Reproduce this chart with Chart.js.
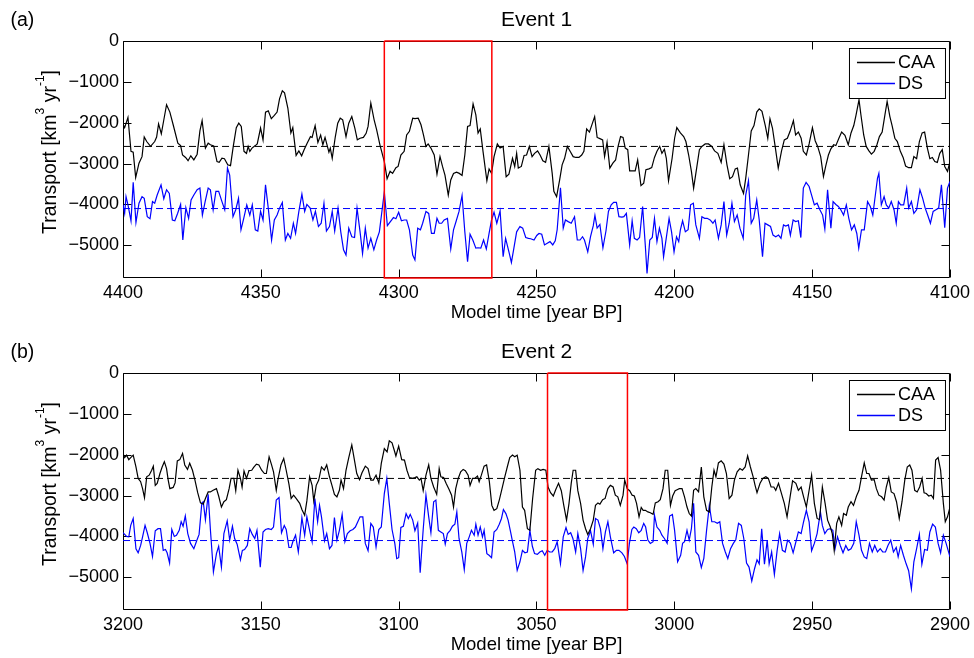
<!DOCTYPE html>
<html><head><meta charset="utf-8">
<script src="https://cdn.jsdelivr.net/npm/chart.js@4.4.1/dist/chart.umd.min.js"></script>
<style>
html,body{margin:0;padding:0;background:#fff;overflow:hidden;width:974px;height:658px;position:relative;}
canvas{position:absolute;left:0;}
#ca{top:0px;} #cb{top:332px;}
</style></head><body>
<canvas id="ca" width="974" height="329"></canvas>
<canvas id="cb" width="974" height="329"></canvas>
<script>
const FONT = "'Liberation Sans', Arial, Helvetica, sans-serif";
const panelLabels = ['(a)', '(b)'];
const panelTitles = ['Event 1', 'Event 2'];
const seriesNames = ['CAA', 'DS'];
const xTitle = 'Model time [year BP]';
const xRangeA = [4100, 4400];
const xRangeB = [2900, 3200];
const xTickStep = 50;
const yRange = [-5800, 0];
const yTickValues = [-5000, -4000, -3000, -2000, -1000, 0];
const caaMeanA = -2580, dsMeanA = -4100;
const caaMeanB = -2580, dsMeanB = -4100;
const eventWindowA = [4305.2, 4266.2];
const eventWindowB = [3046.0, 3017.0];

const caaA = [[4400.0,-2030],[4399.4,-2120],[4398.2,-1870],[4397.1,-2700],[4396.3,-2720],[4395.4,-3340],[4394.2,-2990],[4393.1,-2830],[4392.3,-2350],[4391.4,-2460],[4390.0,-2580],[4388.5,-2460],[4387.8,-2350],[4387.1,-2030],[4386.1,-2270],[4385.3,-1970],[4384.2,-1560],[4383.0,-1740],[4381.8,-2050],[4380.1,-2500],[4379.1,-2560],[4378.4,-2790],[4377.3,-2850],[4376.4,-2930],[4375.4,-2810],[4374.3,-2910],[4373.1,-2770],[4372.1,-2200],[4371.3,-1950],[4370.1,-2620],[4369.1,-2500],[4368.3,-2540],[4367.1,-2570],[4365.9,-2950],[4365.1,-2970],[4364.1,-2870],[4363.2,-2880],[4362.0,-3030],[4361.0,-3050],[4360.0,-2580],[4358.9,-2120],[4358.0,-2010],[4357.1,-2090],[4356.1,-2700],[4355.2,-2750],[4354.6,-2580],[4354.0,-2700],[4353.2,-2620],[4352.0,-2560],[4351.3,-2520],[4350.1,-2130],[4349.2,-2420],[4348.3,-1740],[4347.3,-1710],[4346.2,-1900],[4345.1,-1820],[4344.1,-1740],[4343.2,-1410],[4342.2,-1220],[4341.4,-1270],[4340.2,-1640],[4339.1,-2250],[4338.4,-2120],[4337.2,-2800],[4336.2,-2690],[4335.2,-2810],[4334.3,-2660],[4333.2,-2500],[4332.0,-2340],[4331.4,-2360],[4330.3,-2070],[4329.3,-2480],[4328.3,-2300],[4327.5,-2540],[4326.7,-2360],[4325.3,-2720],[4324.8,-2620],[4324.1,-2870],[4323.0,-2350],[4322.1,-2010],[4321.2,-1890],[4320.3,-1930],[4319.1,-2340],[4318.1,-2010],[4317.0,-1850],[4315.9,-2130],[4315.0,-2420],[4314.0,-2380],[4312.8,-2360],[4311.8,-2260],[4311.1,-2090],[4310.1,-1520],[4308.9,-1930],[4308.0,-2170],[4306.8,-2540],[4305.2,-2950],[4304.2,-3370],[4303.1,-3190],[4302.2,-3240],[4301.0,-3100],[4300.2,-3070],[4299.2,-2790],[4298.0,-2700],[4297.1,-2300],[4296.1,-2210],[4294.9,-1890],[4294.1,-1900],[4292.9,-1890],[4291.9,-2050],[4291.0,-2300],[4290.1,-2580],[4289.3,-2520],[4288.3,-2620],[4287.1,-2790],[4286.1,-3260],[4285.0,-2830],[4284.1,-3070],[4283.2,-3280],[4282.0,-3770],[4281.1,-3400],[4280.1,-3240],[4279.0,-3210],[4278.0,-3240],[4277.0,-3290],[4276.0,-2790],[4275.0,-2090],[4274.1,-2070],[4273.0,-1540],[4272.0,-1810],[4271.2,-2250],[4270.4,-2150],[4269.4,-2700],[4268.0,-3420],[4267.2,-3130],[4266.3,-3240],[4265.4,-2830],[4264.2,-2520],[4263.2,-2620],[4262.1,-2580],[4261.0,-3320],[4260.0,-3260],[4258.7,-2870],[4257.9,-3070],[4257.2,-2750],[4256.6,-3110],[4255.5,-3070],[4254.5,-2800],[4253.6,-2790],[4252.6,-2580],[4251.6,-2830],[4250.7,-2750],[4249.6,-2690],[4248.7,-2790],[4247.7,-2930],[4246.7,-2970],[4245.5,-2580],[4244.3,-3240],[4243.7,-3680],[4242.7,-3810],[4241.6,-3400],[4240.7,-3030],[4239.8,-2870],[4238.8,-2580],[4237.8,-2700],[4236.7,-2830],[4235.7,-2850],[4234.6,-2850],[4233.6,-2790],[4232.8,-2700],[4231.8,-2150],[4230.8,-2230],[4229.7,-2010],[4228.9,-1850],[4228.0,-2360],[4227.0,-2390],[4226.0,-2420],[4225.3,-2830],[4224.4,-2480],[4223.4,-3110],[4222.3,-2990],[4221.3,-2910],[4220.4,-2580],[4219.5,-2340],[4218.6,-2360],[4217.8,-2620],[4216.9,-2660],[4216.2,-3180],[4215.2,-3180],[4214.2,-3180],[4213.3,-2910],[4212.1,-3540],[4211.1,-3480],[4210.3,-3150],[4209.2,-3130],[4208.2,-3100],[4207.2,-2850],[4206.3,-2700],[4205.3,-2580],[4204.5,-2750],[4203.6,-2650],[4202.9,-2870],[4202.1,-3420],[4200.8,-2870],[4199.9,-2380],[4199.1,-2120],[4197.8,-2250],[4196.6,-2340],[4195.8,-2460],[4194.8,-2790],[4193.8,-3190],[4193.0,-3600],[4191.9,-3110],[4190.9,-2660],[4190.0,-2580],[4188.8,-2520],[4187.6,-2520],[4186.4,-2580],[4185.4,-2690],[4184.2,-2750],[4183.0,-2970],[4182.0,-2540],[4180.9,-3030],[4179.9,-3370],[4178.9,-3320],[4177.9,-3130],[4177.1,-3110],[4176.1,-3520],[4174.9,-3730],[4174.1,-3360],[4173.1,-2790],[4172.1,-2200],[4171.1,-2070],[4170.1,-1740],[4169.2,-1660],[4168.2,-1720],[4167.0,-2070],[4166.1,-2380],[4165.3,-1900],[4164.4,-2130],[4163.5,-2540],[4162.3,-3110],[4161.1,-2690],[4160.1,-2420],[4159.0,-2380],[4158.0,-2210],[4156.8,-1950],[4156.0,-2300],[4155.0,-2230],[4154.0,-2380],[4153.2,-2700],[4152.1,-2790],[4151.1,-2520],[4149.9,-2120],[4148.9,-2440],[4148.0,-2580],[4146.9,-2830],[4145.9,-3320],[4145.1,-3070],[4144.1,-2790],[4143.2,-2640],[4142.2,-2540],[4141.4,-2560],[4140.3,-2380],[4139.3,-2230],[4138.1,-2310],[4136.9,-2540],[4135.9,-2250],[4134.9,-2070],[4134.1,-1820],[4133.0,-1440],[4132.3,-1810],[4131.3,-2300],[4130.4,-2580],[4129.4,-2690],[4128.5,-2770],[4127.5,-2700],[4126.5,-2540],[4125.6,-2340],[4124.6,-2230],[4123.6,-1810],[4122.8,-1480],[4121.8,-1850],[4121.0,-2070],[4120.0,-2380],[4119.1,-2460],[4118.0,-2700],[4117.0,-2850],[4116.1,-3060],[4115.0,-3100],[4114.0,-3100],[4113.1,-2830],[4112.1,-2880],[4111.1,-2460],[4110.1,-2250],[4109.2,-2230],[4108.2,-2620],[4107.3,-2880],[4106.4,-2850],[4105.5,-2950],[4104.6,-2970],[4103.7,-2750],[4102.8,-2660],[4101.9,-3070],[4100.9,-3190],[4100.0,-2950]];

const dsA = [[4400.0,-4010],[4399.4,-4220],[4398.9,-3810],[4398.2,-4010],[4397.1,-4400],[4396.3,-3460],[4395.3,-4440],[4394.2,-3970],[4393.1,-3810],[4392.3,-3850],[4391.2,-4300],[4390.2,-4350],[4389.3,-3930],[4388.5,-3970],[4387.6,-3770],[4386.2,-3520],[4385.2,-3860],[4384.2,-3640],[4383.2,-3730],[4382.1,-4380],[4381.2,-4400],[4380.2,-4220],[4379.1,-4000],[4378.3,-4870],[4377.2,-4080],[4376.2,-4340],[4375.3,-3890],[4374.3,-3770],[4373.1,-3640],[4372.1,-3600],[4371.2,-4260],[4370.2,-3930],[4369.1,-3600],[4368.3,-3640],[4367.3,-4130],[4366.3,-3680],[4365.3,-3680],[4364.1,-3930],[4363.1,-4130],[4362.1,-3110],[4361.3,-3280],[4360.1,-4300],[4359.1,-4130],[4358.1,-3850],[4357.2,-4620],[4356.2,-4340],[4355.1,-4010],[4354.0,-4260],[4353.1,-4010],[4352.0,-4620],[4351.1,-4650],[4350.1,-4170],[4349.2,-4380],[4348.3,-3520],[4347.3,-4090],[4346.1,-4870],[4345.1,-4380],[4344.1,-4260],[4343.2,-4090],[4342.2,-3950],[4341.1,-4870],[4340.2,-4710],[4339.2,-4830],[4338.2,-4460],[4337.4,-4710],[4336.2,-4170],[4335.1,-3750],[4334.1,-4170],[4333.3,-4000],[4332.1,-4090],[4331.1,-4380],[4330.2,-4170],[4329.1,-4540],[4328.1,-4460],[4327.1,-3970],[4326.2,-4650],[4325.1,-4540],[4324.1,-4170],[4323.2,-4650],[4322.0,-4090],[4321.0,-4670],[4320.0,-5110],[4319.1,-5240],[4318.1,-4580],[4317.0,-4790],[4316.0,-4810],[4315.1,-4090],[4314.0,-4670],[4313.1,-5200],[4312.1,-4580],[4311.1,-5070],[4310.1,-4830],[4309.0,-5110],[4308.0,-4870],[4307.0,-4670],[4306.0,-4130],[4305.2,-3700],[4304.1,-4520],[4303.0,-4420],[4301.9,-4320],[4301.0,-4350],[4300.0,-4190],[4299.0,-4400],[4298.0,-4380],[4297.1,-4380],[4296.1,-4620],[4294.9,-5240],[4294.1,-5360],[4293.1,-4580],[4292.1,-4620],[4291.3,-4460],[4290.1,-4170],[4289.1,-4220],[4288.1,-4710],[4287.1,-4710],[4286.1,-4340],[4285.3,-4460],[4284.4,-4460],[4283.5,-4380],[4282.3,-4340],[4281.1,-5090],[4280.1,-4620],[4279.1,-4400],[4278.1,-4170],[4277.0,-3780],[4276.0,-4670],[4275.0,-5400],[4274.1,-4730],[4273.1,-4870],[4272.0,-5070],[4271.2,-5060],[4270.2,-5070],[4269.2,-4870],[4268.2,-5090],[4267.2,-4710],[4266.3,-4380],[4265.4,-4190],[4264.4,-4460],[4263.2,-4160],[4262.1,-5280],[4261.2,-4830],[4260.0,-5160],[4259.1,-5420],[4258.2,-5070],[4257.2,-4670],[4256.0,-4540],[4255.0,-4580],[4253.9,-4810],[4252.9,-4830],[4252.1,-4840],[4250.9,-4870],[4249.9,-4760],[4249.1,-4710],[4248.1,-4730],[4247.1,-4990],[4246.1,-4950],[4245.1,-4910],[4244.1,-4990],[4243.2,-4890],[4242.5,-4620],[4241.3,-3590],[4240.3,-4580],[4239.5,-4380],[4238.5,-4420],[4237.4,-4460],[4236.2,-4300],[4235.2,-4870],[4234.2,-4870],[4233.3,-4790],[4232.6,-4870],[4231.4,-5160],[4230.4,-4790],[4229.4,-4520],[4228.8,-4270],[4228.0,-4580],[4227.0,-4490],[4225.9,-5060],[4224.8,-4650],[4223.9,-4170],[4222.9,-4010],[4222.0,-3950],[4221.0,-3950],[4220.1,-4300],[4219.0,-4310],[4218.3,-4300],[4217.4,-4220],[4216.2,-4990],[4215.3,-4400],[4214.5,-4830],[4213.5,-4870],[4212.6,-4810],[4211.5,-4050],[4210.5,-5030],[4209.9,-5690],[4208.9,-4870],[4208.0,-4810],[4207.2,-4340],[4206.3,-4910],[4205.4,-4580],[4204.5,-4830],[4203.9,-5280],[4202.9,-4810],[4201.9,-4340],[4201.0,-4670],[4200.1,-5160],[4199.2,-4790],[4198.4,-4910],[4197.8,-4620],[4197.0,-4400],[4196.0,-4670],[4195.0,-4620],[4194.1,-4010],[4193.1,-3970],[4192.2,-4500],[4190.9,-4830],[4190.0,-4300],[4189.0,-4340],[4188.1,-4340],[4187.0,-4380],[4186.0,-4460],[4185.2,-4380],[4184.0,-4830],[4183.0,-4500],[4182.0,-3930],[4181.0,-4750],[4180.1,-4460],[4179.1,-3970],[4178.2,-4420],[4177.2,-4260],[4176.2,-4580],[4175.0,-4830],[4174.1,-3770],[4173.1,-3420],[4172.1,-4460],[4171.2,-4340],[4170.1,-3890],[4169.2,-4380],[4168.0,-5280],[4167.1,-4460],[4166.1,-4500],[4165.1,-4540],[4164.2,-4750],[4163.2,-4790],[4162.2,-4750],[4161.3,-4830],[4160.4,-4500],[4159.6,-4530],[4158.6,-4500],[4157.9,-4750],[4156.9,-4380],[4156.0,-4420],[4155.0,-4400],[4154.1,-4810],[4153.2,-3600],[4152.2,-3460],[4151.1,-3560],[4150.2,-3770],[4149.2,-4010],[4148.2,-3970],[4147.2,-4130],[4146.2,-4260],[4145.4,-4600],[4144.4,-3640],[4143.2,-4580],[4142.4,-3930],[4141.4,-4000],[4140.5,-4050],[4139.6,-4130],[4138.6,-4260],[4137.6,-4010],[4136.7,-4340],[4135.7,-4620],[4134.7,-4500],[4133.8,-4710],[4133.1,-5070],[4132.1,-4620],[4131.1,-4620],[4129.9,-3930],[4128.9,-4050],[4128.0,-4260],[4127.3,-3890],[4126.3,-3360],[4125.8,-3240],[4124.9,-4010],[4123.9,-3810],[4123.1,-4010],[4122.2,-4090],[4121.3,-3930],[4120.3,-4130],[4119.5,-4460],[4118.7,-3930],[4117.9,-4010],[4116.8,-4010],[4115.7,-3600],[4115.0,-4090],[4114.0,-3930],[4113.1,-4220],[4112.1,-4130],[4110.9,-3640],[4109.9,-3850],[4109.0,-4090],[4108.1,-4260],[4107.1,-4460],[4106.1,-4170],[4105.1,-4130],[4104.1,-4090],[4103.1,-3520],[4101.9,-4570],[4100.9,-3600],[4100.0,-3440]];

const caaB = [[3200.0,-1970],[3199.4,-2070],[3198.7,-2010],[3197.9,-2120],[3197.2,-2070],[3196.3,-2010],[3195.3,-2300],[3194.5,-2580],[3193.6,-2660],[3192.9,-2830],[3192.2,-3050],[3191.4,-2540],[3190.5,-2500],[3189.6,-2380],[3189.0,-2280],[3188.3,-2750],[3187.6,-2700],[3186.6,-2460],[3185.8,-2300],[3185.0,-2170],[3184.2,-2340],[3183.6,-2620],[3183.0,-2830],[3181.8,-2800],[3181.1,-2690],[3180.3,-2150],[3179.4,-2120],[3178.4,-1970],[3177.6,-2250],[3176.6,-2360],[3175.8,-2210],[3174.8,-2380],[3173.9,-2620],[3172.9,-2930],[3171.9,-3180],[3170.9,-3210],[3170.1,-3070],[3169.1,-2910],[3168.3,-2910],[3167.3,-2870],[3166.1,-2830],[3165.3,-3010],[3164.3,-3280],[3163.4,-3150],[3162.5,-3100],[3161.5,-2830],[3160.8,-2580],[3159.8,-2580],[3159.1,-2880],[3158.3,-2380],[3157.4,-2580],[3156.8,-2790],[3156.1,-2400],[3155.2,-2580],[3154.3,-2390],[3153.3,-2380],[3152.6,-2310],[3151.6,-2230],[3150.7,-2250],[3149.7,-2380],[3148.7,-2460],[3148.0,-2460],[3147.0,-2050],[3146.1,-2250],[3145.4,-2420],[3144.4,-2870],[3143.8,-2610],[3142.7,-2250],[3141.7,-2090],[3140.8,-2380],[3139.8,-2720],[3139.0,-3070],[3138.1,-2990],[3137.2,-3070],[3135.9,-3190],[3135.1,-3340],[3134.1,-3480],[3133.3,-3130],[3132.3,-2540],[3131.4,-2750],[3130.8,-3130],[3129.9,-2750],[3129.0,-2620],[3128.0,-2300],[3127.0,-2380],[3126.1,-2250],[3125.1,-2540],[3124.2,-2750],[3123.3,-2970],[3122.4,-3030],[3121.5,-2870],[3120.9,-2620],[3120.0,-2830],[3119.1,-2380],[3118.1,-2070],[3117.0,-1760],[3116.2,-2070],[3115.2,-2460],[3114.2,-2610],[3113.3,-2440],[3112.1,-2280],[3111.1,-2340],[3110.1,-2620],[3109.2,-2620],[3108.2,-2500],[3107.2,-2690],[3106.3,-2210],[3105.2,-1850],[3104.2,-1930],[3103.4,-1660],[3102.4,-1710],[3101.6,-1890],[3101.0,-2030],[3100.0,-1790],[3098.9,-2120],[3097.9,-2130],[3097.0,-2380],[3096.1,-2560],[3094.9,-2580],[3094.1,-2560],[3093.4,-2540],[3092.5,-2620],[3091.9,-2580],[3091.1,-2880],[3090.1,-2500],[3089.1,-2250],[3088.3,-2580],[3087.3,-2790],[3086.2,-2970],[3085.3,-2340],[3084.7,-2540],[3083.7,-2560],[3082.8,-2700],[3081.7,-2850],[3080.8,-2990],[3080.1,-3280],[3079.3,-2830],[3078.4,-2580],[3077.5,-2420],[3076.6,-2360],[3075.8,-2390],[3074.8,-2500],[3074.1,-2750],[3073.2,-2580],[3072.4,-2580],[3071.4,-2520],[3070.8,-2660],[3070.0,-2500],[3069.0,-2280],[3068.1,-2250],[3067.1,-2660],[3066.2,-3240],[3065.4,-3360],[3064.4,-3320],[3063.5,-3110],[3062.4,-2800],[3061.5,-2540],[3060.6,-2300],[3059.7,-2070],[3058.7,-2010],[3057.9,-2050],[3057.0,-2010],[3056.0,-2380],[3055.1,-3280],[3054.3,-3360],[3053.3,-3810],[3052.4,-3850],[3051.4,-3070],[3050.3,-2380],[3049.5,-2340],[3048.5,-2380],[3047.6,-2360],[3046.6,-2380],[3045.8,-2790],[3044.9,-2930],[3043.9,-3010],[3043.0,-2850],[3042.0,-2700],[3041.0,-2880],[3040.1,-3240],[3039.1,-3600],[3038.2,-3190],[3037.4,-2700],[3036.7,-2380],[3035.8,-2380],[3035.0,-2880],[3034.0,-3190],[3033.1,-3600],[3032.2,-3810],[3031.4,-3950],[3030.4,-3810],[3029.4,-3600],[3028.6,-3240],[3027.7,-3180],[3027.0,-3210],[3026.0,-3100],[3025.1,-3070],[3024.1,-2830],[3023.2,-2750],[3022.2,-2790],[3021.4,-2990],[3020.5,-3030],[3019.6,-3240],[3018.6,-2990],[3018.0,-2620],[3017.1,-2830],[3016.2,-2880],[3015.3,-2990],[3014.5,-3010],[3013.7,-3190],[3012.8,-3520],[3012.0,-3290],[3011.3,-3360],[3010.5,-3360],[3009.6,-3400],[3008.7,-3420],[3007.7,-3460],[3006.9,-3180],[3005.9,-3150],[3005.1,-3100],[3004.1,-2830],[3003.3,-2380],[3002.4,-2380],[3001.4,-3240],[3000.6,-3010],[2999.7,-2880],[2998.8,-2850],[2998.2,-2830],[2997.2,-2830],[2996.3,-3030],[2995.4,-3280],[2994.6,-3440],[2993.8,-3500],[2993.0,-2870],[2992.2,-2830],[2991.2,-2910],[2990.2,-2300],[2989.3,-3030],[2988.3,-3360],[2987.3,-3400],[2986.4,-2790],[2985.6,-2380],[2984.9,-2540],[2984.0,-2200],[2983.0,-2150],[2982.0,-2230],[2981.1,-2460],[2980.1,-3070],[2979.1,-2990],[2978.2,-2620],[2977.2,-2420],[2976.2,-2340],[2975.3,-2380],[2974.3,-2300],[2973.4,-2030],[2972.4,-2300],[2971.4,-2540],[2970.7,-2750],[2970.0,-2930],[2968.9,-2700],[2967.9,-2580],[2966.8,-2540],[2965.9,-2580],[2964.9,-2790],[2963.9,-2790],[2963.2,-2870],[2962.2,-2700],[2961.3,-2910],[2960.1,-3190],[2959.1,-3520],[2958.0,-3030],[2957.1,-2640],[2955.9,-2700],[2955.0,-2870],[2954.0,-2790],[2953.1,-3030],[2952.1,-3280],[2951.1,-2870],[2950.2,-2500],[2949.2,-3190],[2948.2,-3560],[2947.3,-3590],[2946.3,-2790],[2945.3,-3190],[2944.4,-3600],[2943.4,-3770],[2942.7,-3930],[2942.0,-4340],[2941.1,-3680],[2940.3,-3520],[2939.3,-3730],[2938.6,-3440],[2937.6,-3480],[2936.9,-3280],[2935.9,-3150],[2935.0,-3240],[2933.9,-3010],[2933.0,-2870],[2932.1,-2540],[2931.1,-2200],[2930.2,-2460],[2929.4,-2460],[2928.5,-2620],[2927.5,-2610],[2926.7,-2830],[2925.8,-2990],[2924.8,-3030],[2923.9,-3110],[2923.1,-2790],[2922.2,-2560],[2921.3,-2910],[2920.3,-2950],[2919.4,-3150],[2918.4,-3560],[2917.4,-3150],[2916.4,-2620],[2915.5,-2300],[2914.6,-2250],[2913.8,-2380],[2912.8,-2870],[2911.9,-2910],[2911.0,-2790],[2910.1,-2580],[2909.4,-2930],[2908.6,-2950],[2907.7,-3010],[2906.8,-2990],[2906.0,-3070],[2905.2,-2130],[2904.3,-2070],[2903.4,-2380],[2902.4,-3190],[2901.7,-3640],[2900.9,-3520],[2900.0,-3280]];

const dsB = [[3200.0,-3910],[3199.4,-3950],[3198.7,-4000],[3197.9,-4010],[3197.2,-3730],[3196.3,-3560],[3195.3,-4300],[3194.5,-4400],[3193.6,-4220],[3192.9,-4010],[3192.0,-3730],[3191.2,-3910],[3190.2,-4170],[3189.3,-4490],[3188.3,-3860],[3187.3,-3810],[3186.4,-3810],[3185.4,-4340],[3184.6,-4320],[3184.0,-4400],[3183.1,-4650],[3182.3,-3830],[3181.4,-4000],[3180.6,-3970],[3179.6,-3850],[3178.9,-3640],[3178.2,-3750],[3177.4,-3500],[3176.5,-3930],[3175.5,-4170],[3174.3,-4300],[3173.3,-4110],[3172.4,-3950],[3171.4,-3180],[3170.9,-3150],[3170.1,-3590],[3169.1,-2970],[3168.3,-3830],[3167.2,-4870],[3166.1,-4420],[3165.3,-4240],[3164.3,-4750],[3163.4,-3930],[3162.2,-3620],[3161.3,-4090],[3160.3,-3750],[3159.5,-4050],[3158.6,-4190],[3157.4,-4570],[3156.7,-4340],[3155.9,-4320],[3154.9,-4220],[3154.0,-3810],[3153.1,-3950],[3152.2,-4050],[3151.4,-3850],[3150.2,-4750],[3149.2,-3890],[3148.3,-3830],[3147.3,-3810],[3146.2,-3830],[3145.4,-3770],[3144.4,-3110],[3143.4,-3050],[3142.5,-3910],[3141.5,-3730],[3140.8,-3830],[3139.8,-4270],[3139.0,-4270],[3138.4,-4130],[3137.4,-3970],[3136.4,-4380],[3135.9,-4080],[3135.1,-3540],[3134.1,-3970],[3133.3,-3520],[3132.3,-3850],[3131.4,-4130],[3130.4,-3070],[3129.4,-3640],[3128.7,-3240],[3128.0,-3520],[3126.9,-4110],[3126.1,-3930],[3125.1,-4300],[3124.2,-4220],[3123.3,-3540],[3122.4,-4090],[3121.5,-3850],[3120.5,-3460],[3119.5,-4130],[3118.6,-3930],[3117.6,-3860],[3116.6,-3830],[3115.7,-3770],[3114.7,-3620],[3114.0,-3520],[3113.0,-3520],[3112.1,-4170],[3111.1,-4350],[3110.1,-3680],[3109.2,-3770],[3108.2,-4260],[3107.2,-3830],[3106.3,-3770],[3105.2,-2950],[3104.3,-2580],[3103.4,-3190],[3102.4,-3830],[3101.4,-4170],[3100.7,-4540],[3100.0,-4520],[3099.2,-3780],[3098.3,-3750],[3097.3,-3440],[3096.5,-3560],[3095.8,-3460],[3094.9,-3600],[3094.1,-3860],[3093.1,-3670],[3092.2,-4890],[3091.1,-3830],[3090.1,-2990],[3089.1,-3520],[3088.3,-3910],[3087.3,-3150],[3086.5,-3110],[3085.6,-3850],[3084.7,-3890],[3083.8,-3930],[3083.1,-4190],[3082.3,-3930],[3081.3,-3850],[3080.5,-3750],[3079.6,-3700],[3078.9,-3400],[3078.1,-4050],[3077.1,-4380],[3076.2,-4810],[3075.3,-4170],[3074.4,-4010],[3073.6,-3850],[3072.6,-3970],[3072.0,-3700],[3071.2,-3970],[3070.4,-3770],[3069.6,-4010],[3069.0,-3850],[3068.0,-4420],[3067.2,-4460],[3066.3,-4520],[3065.4,-3890],[3064.4,-3830],[3063.5,-3700],[3062.7,-3560],[3062.0,-3340],[3061.1,-3440],[3060.3,-3600],[3059.4,-3890],[3058.8,-4090],[3057.9,-4380],[3057.0,-4830],[3056.0,-4620],[3055.1,-4340],[3054.2,-4400],[3053.3,-4380],[3052.4,-3850],[3051.5,-4240],[3050.7,-4420],[3049.7,-4440],[3048.8,-4380],[3047.9,-4350],[3047.0,-4460],[3046.1,-4340],[3045.2,-4380],[3044.3,-4380],[3043.4,-4300],[3042.5,-4130],[3041.3,-4670],[3040.3,-4010],[3039.3,-3780],[3038.5,-3950],[3037.6,-3910],[3036.8,-4050],[3035.8,-4380],[3035.0,-3930],[3034.0,-4300],[3033.1,-4830],[3032.2,-4500],[3031.4,-4050],[3030.4,-3860],[3029.4,-4190],[3028.6,-3560],[3027.7,-3600],[3026.8,-3810],[3025.9,-4300],[3025.0,-3890],[3024.1,-3640],[3023.2,-4010],[3022.0,-4400],[3021.0,-4340],[3020.1,-4340],[3019.0,-4400],[3018.1,-4490],[3017.1,-4670],[3016.3,-4170],[3015.4,-3830],[3014.7,-3770],[3013.8,-3810],[3012.9,-3910],[3012.0,-3850],[3011.1,-3680],[3010.4,-3770],[3009.6,-4090],[3008.7,-4170],[3007.7,-4130],[3007.2,-3480],[3006.3,-3770],[3005.3,-3850],[3004.5,-3970],[3003.6,-4050],[3002.6,-4170],[3001.7,-3500],[3000.7,-3460],[2999.9,-3850],[2998.8,-4620],[2997.7,-4460],[2997.0,-4170],[2996.3,-4130],[2995.4,-3850],[2994.6,-4090],[2993.8,-3810],[2993.0,-3190],[2992.2,-4380],[2991.2,-4460],[2990.2,-4760],[2989.3,-4540],[2988.3,-3850],[2987.3,-3240],[2986.4,-3640],[2985.4,-3640],[2984.4,-3680],[2983.5,-3640],[2982.5,-4170],[2981.5,-4380],[2980.6,-4540],[2979.6,-4300],[2978.6,-4170],[2977.7,-4080],[2976.7,-3680],[2975.7,-3730],[2974.8,-4050],[2973.8,-4650],[2972.9,-4750],[2971.9,-5090],[2970.9,-4790],[2970.0,-4570],[2969.2,-4670],[2968.3,-3810],[2967.3,-4680],[2966.3,-4090],[2965.6,-4670],[2964.7,-4380],[2963.7,-4930],[2962.7,-4340],[2961.8,-3930],[2960.8,-4340],[2959.8,-4380],[2958.9,-4090],[2957.9,-4160],[2956.9,-4400],[2956.0,-4160],[2955.0,-3890],[2954.0,-3930],[2953.1,-3640],[2952.1,-3360],[2951.1,-3640],[2950.2,-4350],[2949.2,-4170],[2948.2,-3930],[2947.0,-3400],[2946.3,-3730],[2945.4,-3930],[2944.4,-3830],[2943.4,-3810],[2942.5,-3850],[2941.7,-4300],[2940.8,-4010],[2939.8,-4220],[2938.8,-4400],[2937.8,-4220],[2936.9,-4340],[2935.9,-4300],[2934.9,-4170],[2934.0,-3640],[2933.0,-3970],[2932.1,-4340],[2931.1,-4500],[2930.2,-4540],[2929.2,-4170],[2928.2,-4380],[2927.3,-4220],[2926.3,-4380],[2925.3,-4300],[2924.4,-4380],[2923.4,-4380],[2922.5,-4220],[2921.5,-4090],[2920.5,-4380],[2919.5,-4270],[2918.8,-4500],[2917.9,-4220],[2916.9,-4460],[2915.9,-4670],[2915.0,-4840],[2914.0,-5280],[2913.1,-4620],[2912.1,-4300],[2911.1,-3950],[2910.2,-4680],[2909.2,-4320],[2908.2,-4340],[2907.3,-3890],[2906.3,-3700],[2905.3,-3770],[2904.3,-4170],[2903.4,-4400],[2902.4,-3970],[2901.4,-4170],[2900.0,-4500]];

const COLORS = { caa: '#000000', ds: '#0000ff', window: '#ff0000', frame: '#000000' };

function pts(pairs) { return pairs.map(p => ({ x: p[0], y: p[1] })); }

function drawYTitle(ctx, cx, cy) {
  const parts = [['Transport [km', 19.5, 0], ['3', 12, -12], [' yr', 19.5, 0], ['-1', 12, -12], [']', 19.5, 0]];
  let total = 0;
  const widths = parts.map(p => { ctx.font = p[1] + 'px ' + FONT; const w = ctx.measureText(p[0]).width; total += w; return w; });
  ctx.save();
  ctx.translate(cx, cy);
  ctx.rotate(-Math.PI / 2);
  ctx.fillStyle = '#000';
  ctx.textAlign = 'left';
  ctx.textBaseline = 'alphabetic';
  let x = -total / 2;
  parts.forEach((p, i) => { ctx.font = p[1] + 'px ' + FONT; ctx.fillText(p[0], x, p[2]); x += widths[i]; });
  ctx.restore();
}

const decorPlugin = {
  id: 'decor',
  beforeDatasetsDraw(chart) {
    const { ctx, chartArea: a, scales: { x, y } } = chart;
    const L = a.left + 0.5, R = a.right - 0.5, T = a.top + 0.5, B = a.bottom - 0.5;
    ctx.save();
    ctx.strokeStyle = COLORS.frame;
    ctx.lineWidth = 1;
    ctx.beginPath();
    ctx.rect(L, T, R - L, B - T);
    const tl = 8;
    x.ticks.forEach(t => {
      const px = Math.round(x.getPixelForValue(t.value)) + 0.5;
      ctx.moveTo(px, B); ctx.lineTo(px, B - tl);
      ctx.moveTo(px, T); ctx.lineTo(px, T + tl);
    });
    y.ticks.forEach(t => {
      const py = Math.round(y.getPixelForValue(t.value)) + 0.5;
      ctx.moveTo(L, py); ctx.lineTo(L + tl, py);
      ctx.moveTo(R, py); ctx.lineTo(R - tl, py);
    });
    ctx.stroke();
    ctx.restore();
  },
  afterDatasetsDraw(chart) {
    const { ctx, chartArea: a } = chart;
    const bw = 96, bh = 50;
    const bx = a.right - 5 - bw, by = a.top + 7;
    ctx.save();
    ctx.fillStyle = '#fff';
    ctx.fillRect(bx, by, bw, bh);
    ctx.strokeStyle = '#000';
    ctx.lineWidth = 1;
    ctx.strokeRect(bx + 0.5, by + 0.5, bw, bh);
    const items = [
      { name: seriesNames[0], color: COLORS.caa, y: by + 14.5 },
      { name: seriesNames[1], color: COLORS.ds, y: by + 35.5 }
    ];
    ctx.font = '18px ' + FONT;
    ctx.textBaseline = 'middle';
    ctx.textAlign = 'left';
    for (const it of items) {
      ctx.beginPath();
      ctx.strokeStyle = it.color;
      ctx.lineWidth = 1.3;
      ctx.moveTo(bx + 8, it.y); ctx.lineTo(bx + 46, it.y);
      ctx.stroke();
      ctx.fillStyle = '#000';
      ctx.fillText(it.name, bx + 49, it.y + 0.5);
    }
    ctx.restore();
  },
  afterDraw(chart, args, opts) {
    const { ctx, chartArea: a } = chart;
    ctx.save();
    ctx.fillStyle = '#000';
    ctx.textBaseline = 'alphabetic';
    ctx.font = '21px ' + FONT;
    ctx.textAlign = 'center';
    ctx.fillText(opts.title, (a.left + a.right) / 2, 26);
    ctx.font = '19.5px ' + FONT;
    ctx.textAlign = 'left';
    ctx.fillText(opts.label, 10.5, 26);
    ctx.restore();
    drawYTitle(ctx, 56, 152);
  }
};

function makeChart(id, xr, caa, ds, caaMean, dsMean, win, title, label) {
  const datasets = [
    { label: 'window', data: pts([[win[0], yRange[1]], [win[0], yRange[0]], [win[1], yRange[0]], [win[1], yRange[1]], [win[0], yRange[1]]]),
      borderColor: COLORS.window, borderWidth: 1.5, pointRadius: 0, fill: false, clip: false, order: 0, borderJoinStyle: 'miter' },
    { label: seriesNames[0], data: pts(caa), borderColor: COLORS.caa, borderWidth: 1.2, pointRadius: 0, fill: false, tension: 0, order: 1 },
    { label: seriesNames[1], data: pts(ds), borderColor: COLORS.ds, borderWidth: 1.2, pointRadius: 0, fill: false, tension: 0, order: 2 },
    { label: 'CAA mean', data: pts([[xr[1], caaMean], [xr[0], caaMean]]), borderColor: COLORS.caa, borderWidth: 1, borderDash: [7, 4], pointRadius: 0, fill: false, order: 3 },
    { label: 'DS mean', data: pts([[xr[1], dsMean], [xr[0], dsMean]]), borderColor: COLORS.ds, borderWidth: 1, borderDash: [7, 4], pointRadius: 0, fill: false, order: 4 }
  ];
  return new Chart(document.getElementById(id), {
    type: 'line',
    data: { datasets },
    plugins: [decorPlugin],
    options: {
      responsive: false,
      animation: false,
      devicePixelRatio: 1,
      events: [],
      layout: { padding: { left: 0, right: 22, top: 41, bottom: 0 } },
      plugins: {
        legend: { display: false },
        tooltip: { enabled: false },
        title: { display: false },
        decor: { title, label }
      },
      scales: {
        x: {
          type: 'linear', min: xr[0], max: xr[1], reverse: true, position: 'bottom',
          grid: { display: false, drawTicks: false },
          border: { display: false },
          ticks: { stepSize: xTickStep, autoSkip: false, maxRotation: 0, padding: 4, color: '#000',
                   font: { family: FONT, size: 18 }, callback: v => String(v) },
          title: { display: true, text: xTitle, color: '#000', font: { family: FONT, size: 18.5 }, padding: { top: 0, bottom: 4.5 } },
          afterFit(s) { s.height = 51; }
        },
        y: {
          type: 'linear', min: yRange[0], max: yRange[1],
          grid: { display: false, drawTicks: false },
          border: { display: false },
          afterBuildTicks(s) { s.ticks = yTickValues.map(v => ({ value: v })); },
          ticks: { autoSkip: false, padding: 4, color: '#000',
                   font: { family: FONT, size: 18 }, callback: v => v === 0 ? '0' : '\u2212' + Math.abs(v) },
          afterFit(s) { s.width = 123; }
        }
      }
    }
  });
}

makeChart('ca', xRangeA, caaA, dsA, caaMeanA, dsMeanA, eventWindowA, panelTitles[0], panelLabels[0]);
makeChart('cb', xRangeB, caaB, dsB, caaMeanB, dsMeanB, eventWindowB, panelTitles[1], panelLabels[1]);
</script>
</body></html>
